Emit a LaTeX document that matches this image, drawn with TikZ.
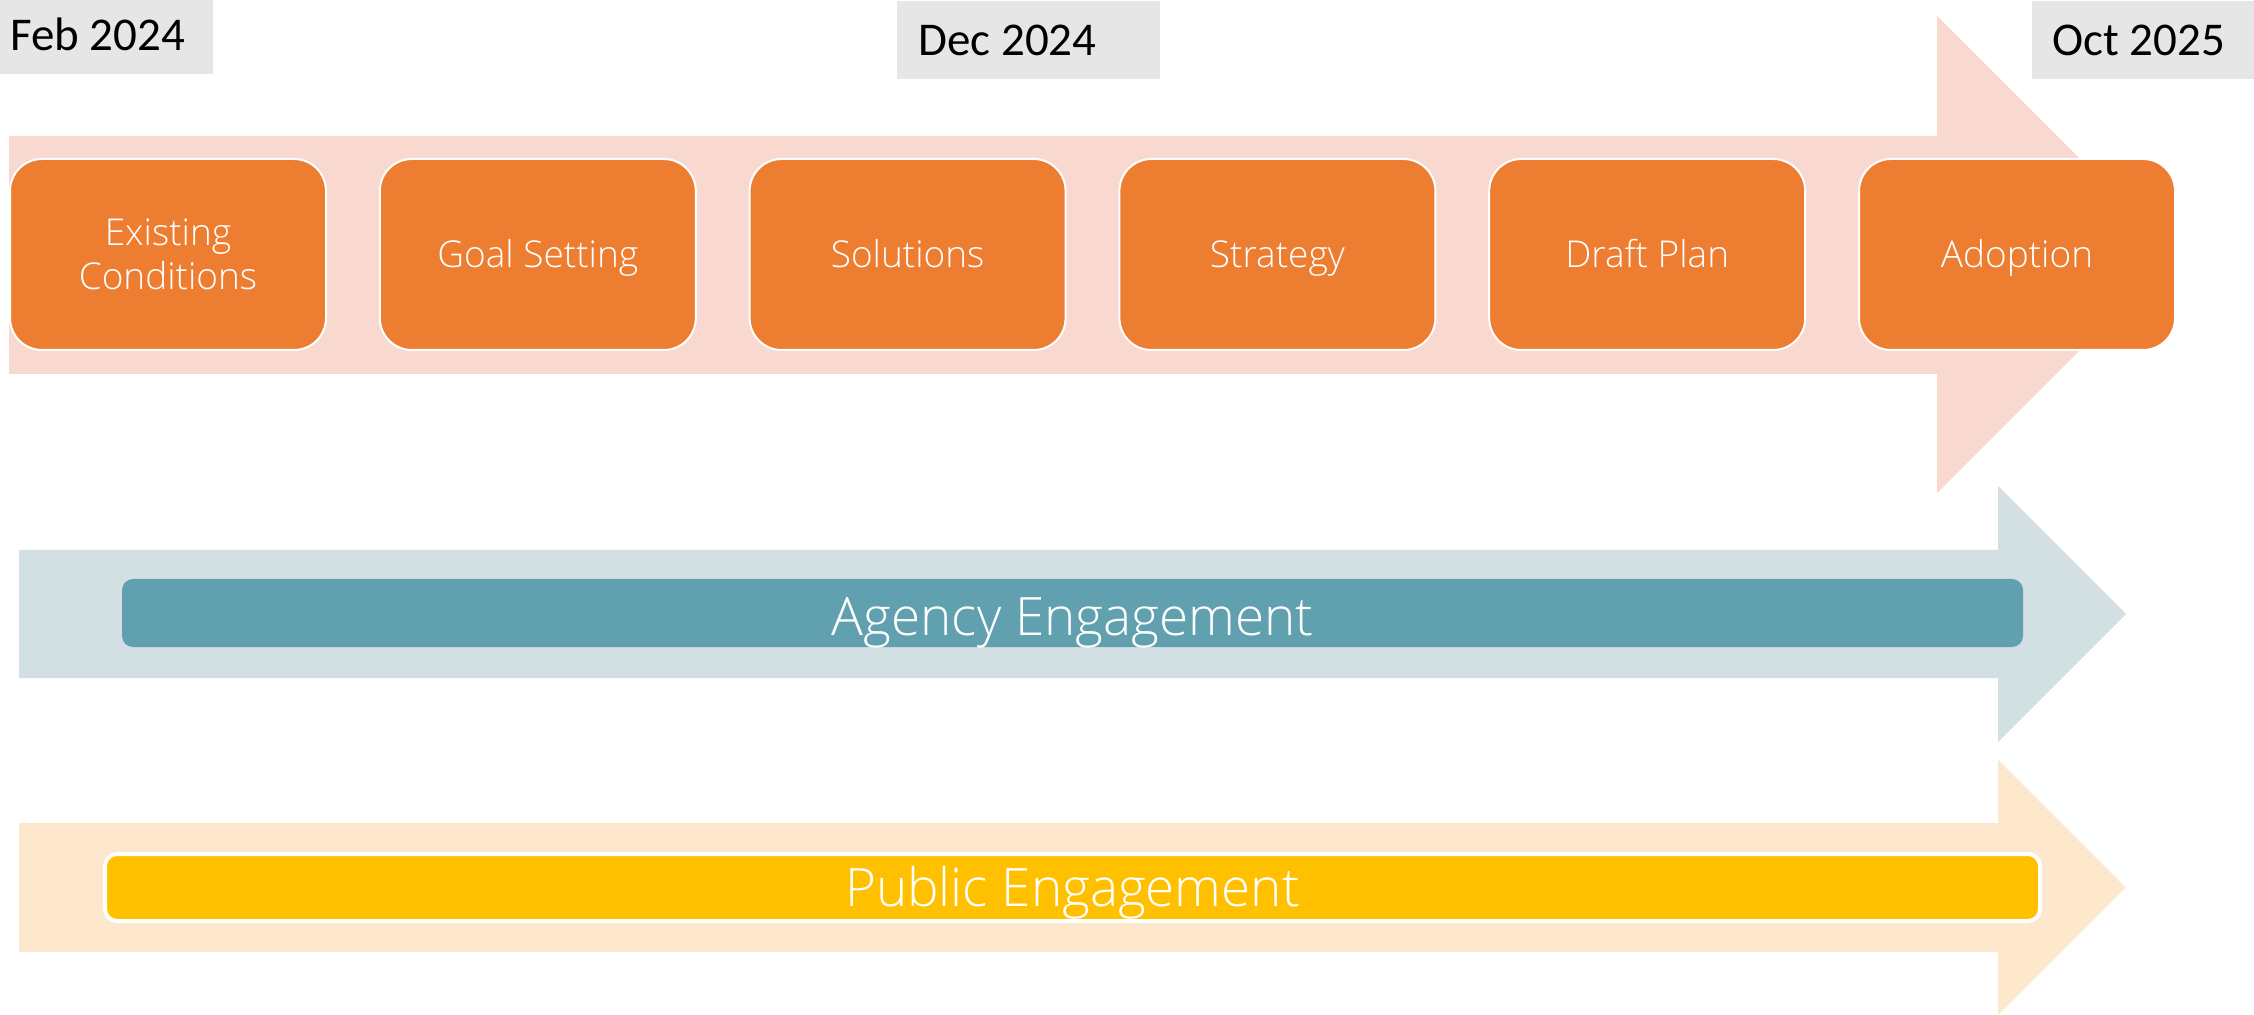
\documentclass[tikz,border=0pt]{standalone}
\usepackage{fontspec}
\setmainfont{Open Sans Light}
\newfontfamily\datefont{Carlito}
\definecolor{pinkbg}{HTML}{F8D8CF}
\definecolor{orangebox}{HTML}{ED7D31}
\definecolor{agencybg}{HTML}{D2DFE3}
\definecolor{agencybox}{HTML}{61A1AF}
\definecolor{publicbg}{HTML}{FDE7CD}
\definecolor{publicbox}{HTML}{FFC000}
\definecolor{dategray}{HTML}{E6E6E6}
\tikzset{
  obox/.style={fill=orangebox, draw=white, line width=1pt, rounded corners=16pt,
    minimum width=158pt, minimum height=95.5pt, inner sep=0pt, text=white,
    font=\fontsize{18.5}{22}\selectfont, align=center},
  capsline/.style={text height=13.2pt, text depth=0pt},
  datetext/.style={anchor=base west, inner sep=0pt, font=\datefont\fontsize{23.5}{28}\selectfont, text=black},
  datebg/.style={fill=dategray},
  bandtext/.style={text=white, inner sep=0pt, font=\fontsize{26.5}{30}\selectfont}
}
\begin{document}
\begin{tikzpicture}[x=0.5pt,y=-0.5pt]
\useasboundingbox (0,0) rectangle (2254,1015);
% background arrows
\fill[pinkbg] (9,136) -- (1937,136) -- (1937,16) -- (2175.5,254.5) -- (1937,493) -- (1937,374) -- (9,374) -- cycle;
\fill[agencybg] (19,550) -- (1998,550) -- (1998,486) -- (2126,614) -- (1998,742) -- (1998,678) -- (19,678) -- cycle;
\fill[publicbg] (19,823) -- (1998,823) -- (1998,760) -- (2125.5,887.5) -- (1998,1015) -- (1998,952) -- (19,952) -- cycle;
% date labels
\fill[datebg] (0,0) rectangle (213,74);
\fill[datebg] (897,1) rectangle (1160,79);
\fill[datebg] (2032,1) rectangle (2254,79);
\node[datetext] (feb) at (10,51) {Feb 2024};
\node[datetext] (dec) at (918,56) {Dec 2024};
\node[datetext] (oct) at (2052,56) {Oct 2025};
% phase boxes
\node[obox] (existing) at (168,254.5) {Existing\\Conditions};
\node[obox,capsline] (goal) at (537.8,254.5) {Goal Setting};
\node[obox,capsline] (solutions) at (907.6,254.5) {Solutions};
\node[obox,capsline] (strategy) at (1277.4,254.5) {Strategy};
\node[obox,capsline] (draft) at (1647.2,254.5) {Draft Plan};
\node[obox,capsline] (adoption) at (2017,254.5) {Adoption};
% engagement bars
\node[bandtext, fill=agencybox, rounded corners=5.5pt, minimum width=950.5pt, minimum height=34pt,
  text height=22.9pt, text depth=0pt] (agency) at (1072.5,613) {Agency Engagement};
\node[bandtext, fill=publicbox, draw=white, line width=2pt, rounded corners=6pt, minimum width=967.5pt, minimum height=33.5pt,
  text height=18.9pt, text depth=0pt] (public) at (1072.5,887.5) {Public Engagement};
\end{tikzpicture}
\end{document}
